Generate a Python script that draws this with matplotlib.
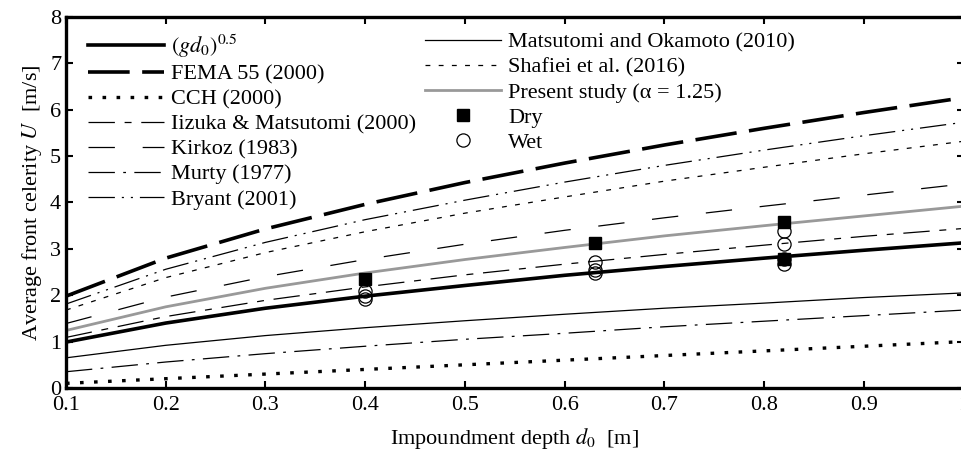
import matplotlib.pyplot as plt

plt.rcParams['font.family'] = ['Liberation Serif', 'DejaVu Serif']
plt.rcParams['mathtext.fontset'] = 'stix'
plt.rcParams['lines.scale_dashes'] = False

d0 = [0.1, 0.2, 0.3, 0.4, 0.5, 0.6, 0.7, 0.8, 0.9, 1.0]
xlabels = ['0.1', '0.2', '0.3', '0.4', '0.5', '0.6', '0.7', '0.8', '0.9', '1']

# front celerity of the empirical relations [m/s]
u_gd = [0.99, 1.40, 1.72, 1.98, 2.21, 2.43, 2.62, 2.80, 2.97, 3.13]
u_fema = [1.98, 2.80, 3.43, 3.96, 4.43, 4.85, 5.24, 5.60, 5.94, 6.26]
u_cch = [0.10, 0.20, 0.30, 0.40, 0.50, 0.60, 0.70, 0.80, 0.90, 1.00]
u_iizuka = [1.09, 1.54, 1.89, 2.18, 2.44, 2.67, 2.88, 3.08, 3.27, 3.44]
u_kirkoz = [1.39, 1.96, 2.40, 2.77, 3.10, 3.40, 3.67, 3.92, 4.16, 4.40]
u_murty = [0.35, 0.56, 0.74, 0.90, 1.05, 1.18, 1.32, 1.44, 1.56, 1.68]
u_bryant = [1.81, 2.56, 3.14, 3.63, 4.05, 4.44, 4.80, 5.13, 5.44, 5.73]
u_matsu = [0.65, 0.92, 1.13, 1.30, 1.45, 1.59, 1.72, 1.83, 1.95, 2.05]
u_shafiei = [1.68, 2.38, 2.92, 3.37, 3.77, 4.12, 4.46, 4.76, 5.05, 5.32]
u_present = [1.24, 1.75, 2.15, 2.48, 2.77, 3.03, 3.28, 3.50, 3.71, 3.92]

# measurements
dry_d = [0.40, 0.63, 0.82, 0.82]
dry_u = [2.35, 3.13, 3.57, 2.79]
wet_d = [0.40, 0.40, 0.40, 0.63, 0.63, 0.63, 0.82, 0.82, 0.82, 0.82]
wet_u = [2.10, 1.98, 1.92, 2.72, 2.55, 2.47, 3.38, 3.10, 2.78, 2.68]

fig = plt.figure(figsize=(9.62, 4.55), dpi=100)
ax = fig.add_axes([0.0686, 0.1473, 0.9330, 0.8153])

k = 'black'
h1 = []
h1 += ax.plot(d0, u_gd, color=k, lw=2.6, label=r'$(gd_0)^{0.5}$')
h1 += ax.plot(d0, u_fema, color=k, lw=2.6, dashes=(30, 9), label='FEMA 55 (2000)')
h1 += ax.plot(d0, u_cch, color=k, lw=2.4, dashes=(2.6, 7.5), label='CCH (2000)')
h1 += ax.plot(d0, u_iizuka, color=k, lw=0.9, dashes=(19, 7, 5, 7), label='Iizuka & Matsutomi (2000)')
h1 += ax.plot(d0, u_kirkoz, color=k, lw=0.9, dashes=(19, 20), label='Kirkoz (1983)')
h1 += ax.plot(d0, u_murty, color=k, lw=0.9, dashes=(19, 6, 2, 6), label='Murty (1977)')
h1 += ax.plot(d0, u_bryant, color=k, lw=0.9, dashes=(19, 5, 1.5, 5, 1.5, 5), label='Bryant (2001)')

h2 = []
h2 += ax.plot(d0, u_matsu, color=k, lw=0.9, label='Matsutomi and Okamoto (2010)')
h2 += ax.plot(d0, u_shafiei, color=k, lw=0.9, dashes=(3.5, 6), label='Shafiei et al. (2016)')
h2 += ax.plot(d0, u_present, color='0.6', lw=2.0, label='Present study (α = 1.25)')
h2 += ax.plot(dry_d, dry_u, 's', color=k, ms=9, ls='none', label='Dry')
h2 += ax.plot(wet_d, wet_u, 'o', mfc='none', mec=k, mew=0.9, ms=9.5, ls='none', label='Wet')

ax.set_xlim(0.1, 1.0)
ax.set_ylim(0, 8)
ax.set_xticks(d0)
ax.set_xticklabels(xlabels)
ax.set_yticks(range(9))
ax.tick_params(direction='in', top=True, right=True, length=5, width=1.5,
               labelsize=16)
ax.tick_params(axis='x', pad=6)
for s in ax.spines.values():
    s.set_linewidth(2.4)

ax.set_xlabel(r'Impoundment depth $d_0$  [m]', fontsize=16, labelpad=8)
ax.set_ylabel(r'Average front celerity $U$  [m/s]', fontsize=16)

legend_kw = dict(loc='upper left', bbox_transform=fig.transFigure, frameon=False,
                 fontsize=16, handlelength=3.4, handletextpad=0.35,
                 labelspacing=0.2, borderpad=0, borderaxespad=0)
leg1 = ax.legend(handles=h1, bbox_to_anchor=(88 / 962, 1 - 32 / 455), **legend_kw)
ax.add_artist(leg1)
ax.legend(handles=h2, bbox_to_anchor=(425 / 962, 1 - 32 / 455), **legend_kw)

fig.savefig('out.png', dpi=100)
